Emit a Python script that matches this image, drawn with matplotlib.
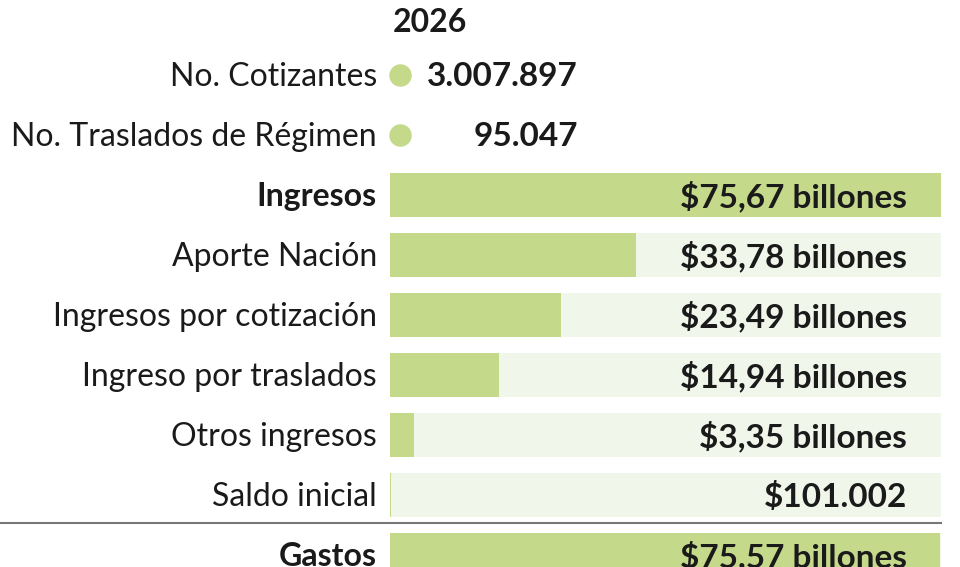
import matplotlib.pyplot as plt
from matplotlib.transforms import ScaledTranslation

# data
year = "2026"
stat_labels = ["No. Cotizantes", "No. Traslados de Régimen"]
stat_values = ["3.007.897", "95.047"]

categories = ["Ingresos", "Aporte Nación", "Ingresos por cotización",
              "Ingreso por traslados", "Otros ingresos", "Saldo inicial", "Gastos"]
values = [75.67, 33.78, 23.49, 14.94, 3.35, 0.101002, 75.57]
value_labels = ["$75,67 billones", "$33,78 billones", "$23,49 billones",
                "$14,94 billones", "$3,35 billones", "$101.002", "$75,57 billones"]
bold_rows = ["Ingresos", "Gastos"]

total = values[0]
green = "#c5d98a"
light = "#f0f6ea"
ink = "#1a1a1a"
font = "Lato"

fig = plt.figure(figsize=(9.6, 5.67), dpi=100)
ax = fig.add_axes([0, 0, 1, 1])
ax.set_xlim(-total * 390 / 551, total * 570 / 551)
ax.set_ylim(6.2, -3.25)
ax.axis("off")

rows = list(range(len(categories)))
ax.barh(rows, [total] * len(rows), height=0.72, color=light, left=0)
ax.barh(rows, values, height=0.72, color=green, left=0)

for i, (cat, lab) in enumerate(zip(categories, value_labels)):
    w = "bold" if cat in bold_rows else "normal"
    ax.annotate(cat, xy=(0, i + 0.03), xytext=(-13, 0), textcoords="offset pixels",
                ha="right", va="center", fontsize=23, fontweight=w, family=font, color=ink)
    ax.annotate(lab, xy=(total, i + 0.03), xytext=(-34, 0), textcoords="offset pixels",
                ha="right", va="center", fontsize=24, fontweight="bold", family=font, color=ink)

# separator above Gastos
ax.plot([ax.get_xlim()[0], total], [5.47, 5.47], color="#777777", lw=1.5)

# header stats
ax.annotate(year, xy=(0, -2.88), xytext=(40, 0), textcoords="offset pixels",
            ha="center", va="center", fontsize=23, fontweight="bold", family=font, color=ink)
shift = ax.transData + ScaledTranslation(0.10, 0, fig.dpi_scale_trans)
for j, (lab, val) in enumerate(zip(stat_labels, stat_values)):
    y = -2 + j
    ax.scatter([0], [y], s=230, color=green, zorder=3, transform=shift)
    ax.annotate(lab, xy=(0, y + 0.03), xytext=(-13, 0), textcoords="offset pixels",
                ha="right", va="center", fontsize=23, fontweight="normal", family=font, color=ink)
    ax.annotate(val, xy=(0, y + 0.03), xytext=(188, 0), textcoords="offset pixels",
                ha="right", va="center", fontsize=24, fontweight="bold", family=font, color=ink)

fig.savefig("out.png", dpi=100)
